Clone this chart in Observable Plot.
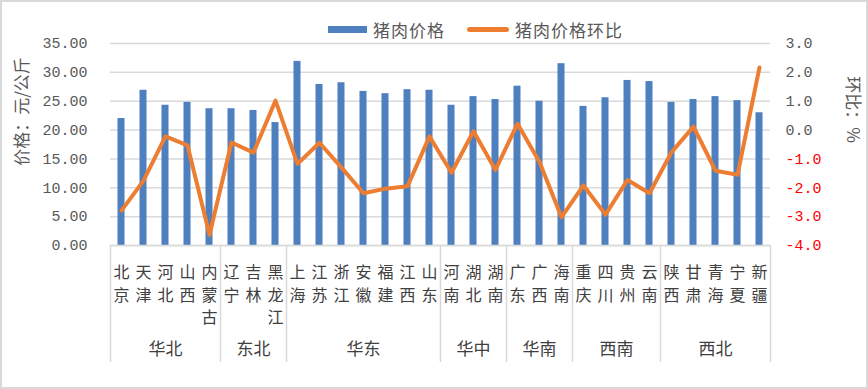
<!DOCTYPE html>
<html>
<head>
<meta charset="utf-8">
<script src="https://cdn.jsdelivr.net/npm/d3@7"></script>
<script src="https://cdn.jsdelivr.net/npm/@observablehq/plot@0.6"></script>
<style>
  body { margin: 0; background: #fff; }
  #wrap { position: relative; width: 868px; height: 389px; overflow: hidden; }
  #border { position: absolute; left: 0; top: 0; width: 864px; height: 385px; border: 2px solid #d9d9d9; pointer-events: none; }
  #legend { position: absolute; left: 0; top: 0; width: 868px; height: 38px; box-sizing: border-box; padding-top: 21px; padding-left: 328px; font-family: "Noto Sans CJK SC", sans-serif; font-size: 17px; color: #595959; display: flex; align-items: center; line-height: 18px; z-index: 2; }
  .sw { display: inline-block; margin-right: 6px; }
  .item { display: flex; align-items: center; margin-right: 22px; letter-spacing: 1px; }
</style>
</head>
<body>
<div id="wrap">
  <div id="chart"></div>
  <div id="legend"></div>
  <div id="border"></div>
</div>
<script>
// ---- data ----
const provinces = ["北京","天津","河北","山西","内蒙古","辽宁","吉林","黑龙江","上海","江苏","浙江","安徽","福建","江西","山东","河南","湖北","湖南","广东","广西","海南","重庆","四川","贵州","云南","陕西","甘肃","青海","宁夏","新疆"];
const regionNames = ["华北","东北","华东","华中","华南","西南","西北"];
const regionCounts = [5, 3, 7, 3, 3, 4, 5];
const prices = [22.0, 26.9, 24.3, 24.8, 23.7, 23.7, 23.4, 21.3, 31.9, 27.9, 28.2, 26.7, 26.3, 27.0, 26.9, 24.3, 25.8, 25.3, 27.6, 25.0, 31.5, 24.1, 25.6, 28.6, 28.4, 24.8, 25.3, 25.8, 25.1, 23.0];
const changes = [-2.79, -1.75, -0.22, -0.53, -3.63, -0.43, -0.78, 1.02, -1.17, -0.44, -1.3, -2.19, -2.03, -1.95, -0.22, -1.48, -0.04, -1.38, 0.22, -1.11, -3.02, -1.92, -2.93, -1.73, -2.19, -0.77, 0.12, -1.41, -1.55, 2.17];
const leftTicks = [0, 5, 10, 15, 20, 25, 30, 35];
const rightTicks = [-4, -3, -2, -1, 0, 1, 2, 3];
const seriesNames = ["猪肉价格", "猪肉价格环比"];

const BLUE = "#4e7fbe", ORANGE = "#ed7d31", GRID = "#d9d9d9", TXT = "#595959", LBL = "#404040";
const CJK = "'Noto Sans CJK SC', sans-serif";
const MONO = "'Liberation Mono', 'DejaVu Sans Mono', monospace";

// right axis [-4,3] mapped onto left axis [0,35]
const rMin = -4, rMax = 3, lMax = 35;
const toLeft = v => (v - rMin) / (rMax - rMin) * lMax;

// region boundaries & centers
const bounds = [0];
regionCounts.forEach(c => bounds.push(bounds[bounds.length - 1] + c));
const regions = regionNames.map((name, i) => ({name, mid: (bounds[i] + bounds[i + 1]) / 2}));

// legend
const lg = document.getElementById("legend");
lg.innerHTML =
  `<span class="item"><span class="sw" style="width:39px;height:7px;background:${BLUE}"></span>${seriesNames[0]}</span>` +
  `<span class="item"><span class="sw" style="width:42px;height:5px;border-radius:3px;background:${ORANGE}"></span>${seriesNames[1]}</span>`;

const chart = Plot.plot({
  width: 868,
  height: 389,
  marginTop: 43,
  marginBottom: 144,
  marginLeft: 110,
  marginRight: 98,
  x: {domain: [0, provinces.length], axis: null},
  y: {domain: [0, 35], axis: null},
  style: {fontFamily: CJK, background: "transparent"},
  marks: [
    Plot.gridY(leftTicks, {stroke: GRID, strokeOpacity: 1, strokeWidth: 1.5}),
    Plot.axisY(leftTicks, {anchor: "left", tickSize: 0, tickPadding: 23, tickFormat: d => d.toFixed(2), fontSize: 15, fontFamily: MONO, fill: TXT, label: null}),
    Plot.text(rightTicks, {y: d => toLeft(d), frameAnchor: "right", dx: 15, textAnchor: "start", text: d => d.toFixed(1), fill: d => d < 0 ? "#ff0000" : TXT, fontSize: 15, fontFamily: MONO}),
    Plot.text(["价格：元/公斤"], {frameAnchor: "left", textAnchor: "middle", dx: -88, dy: -33, rotate: -90, fontSize: 17, fill: TXT}),
    Plot.text(["环比：%"], {frameAnchor: "right", textAnchor: "middle", dx: 82, dy: -35, rotate: 90, fontSize: 17, fill: TXT}),
    Plot.rect(prices, {x1: (d, i) => i, x2: (d, i) => i + 1, y1: 0, y2: d => d, insetLeft: 7.5, insetRight: 7.5, fill: BLUE}),
    Plot.ruleY([0], {stroke: GRID, strokeWidth: 1.5}),
    Plot.axisX(bounds, {anchor: "bottom", tickSize: 117, tickFormat: () => "", stroke: GRID, strokeWidth: 1.5, label: null}),
    Plot.line(changes, {x: (d, i) => i + 0.5, y: d => toLeft(d), stroke: ORANGE, strokeWidth: 4, strokeLinejoin: "round", strokeLinecap: "round"}),
    Plot.text(provinces, {x: (d, i) => i + 0.5, frameAnchor: "bottom", lineAnchor: "top", dy: 17, text: d => [...d].join("\n"), lineHeight: 1.4, fontSize: 16, fill: LBL}),
    Plot.text(regions, {x: "mid", frameAnchor: "bottom", dy: 109, text: "name", fontSize: 17, fill: LBL})
  ]
});
document.getElementById("chart").appendChild(chart);
</script>
</body>
</html>
